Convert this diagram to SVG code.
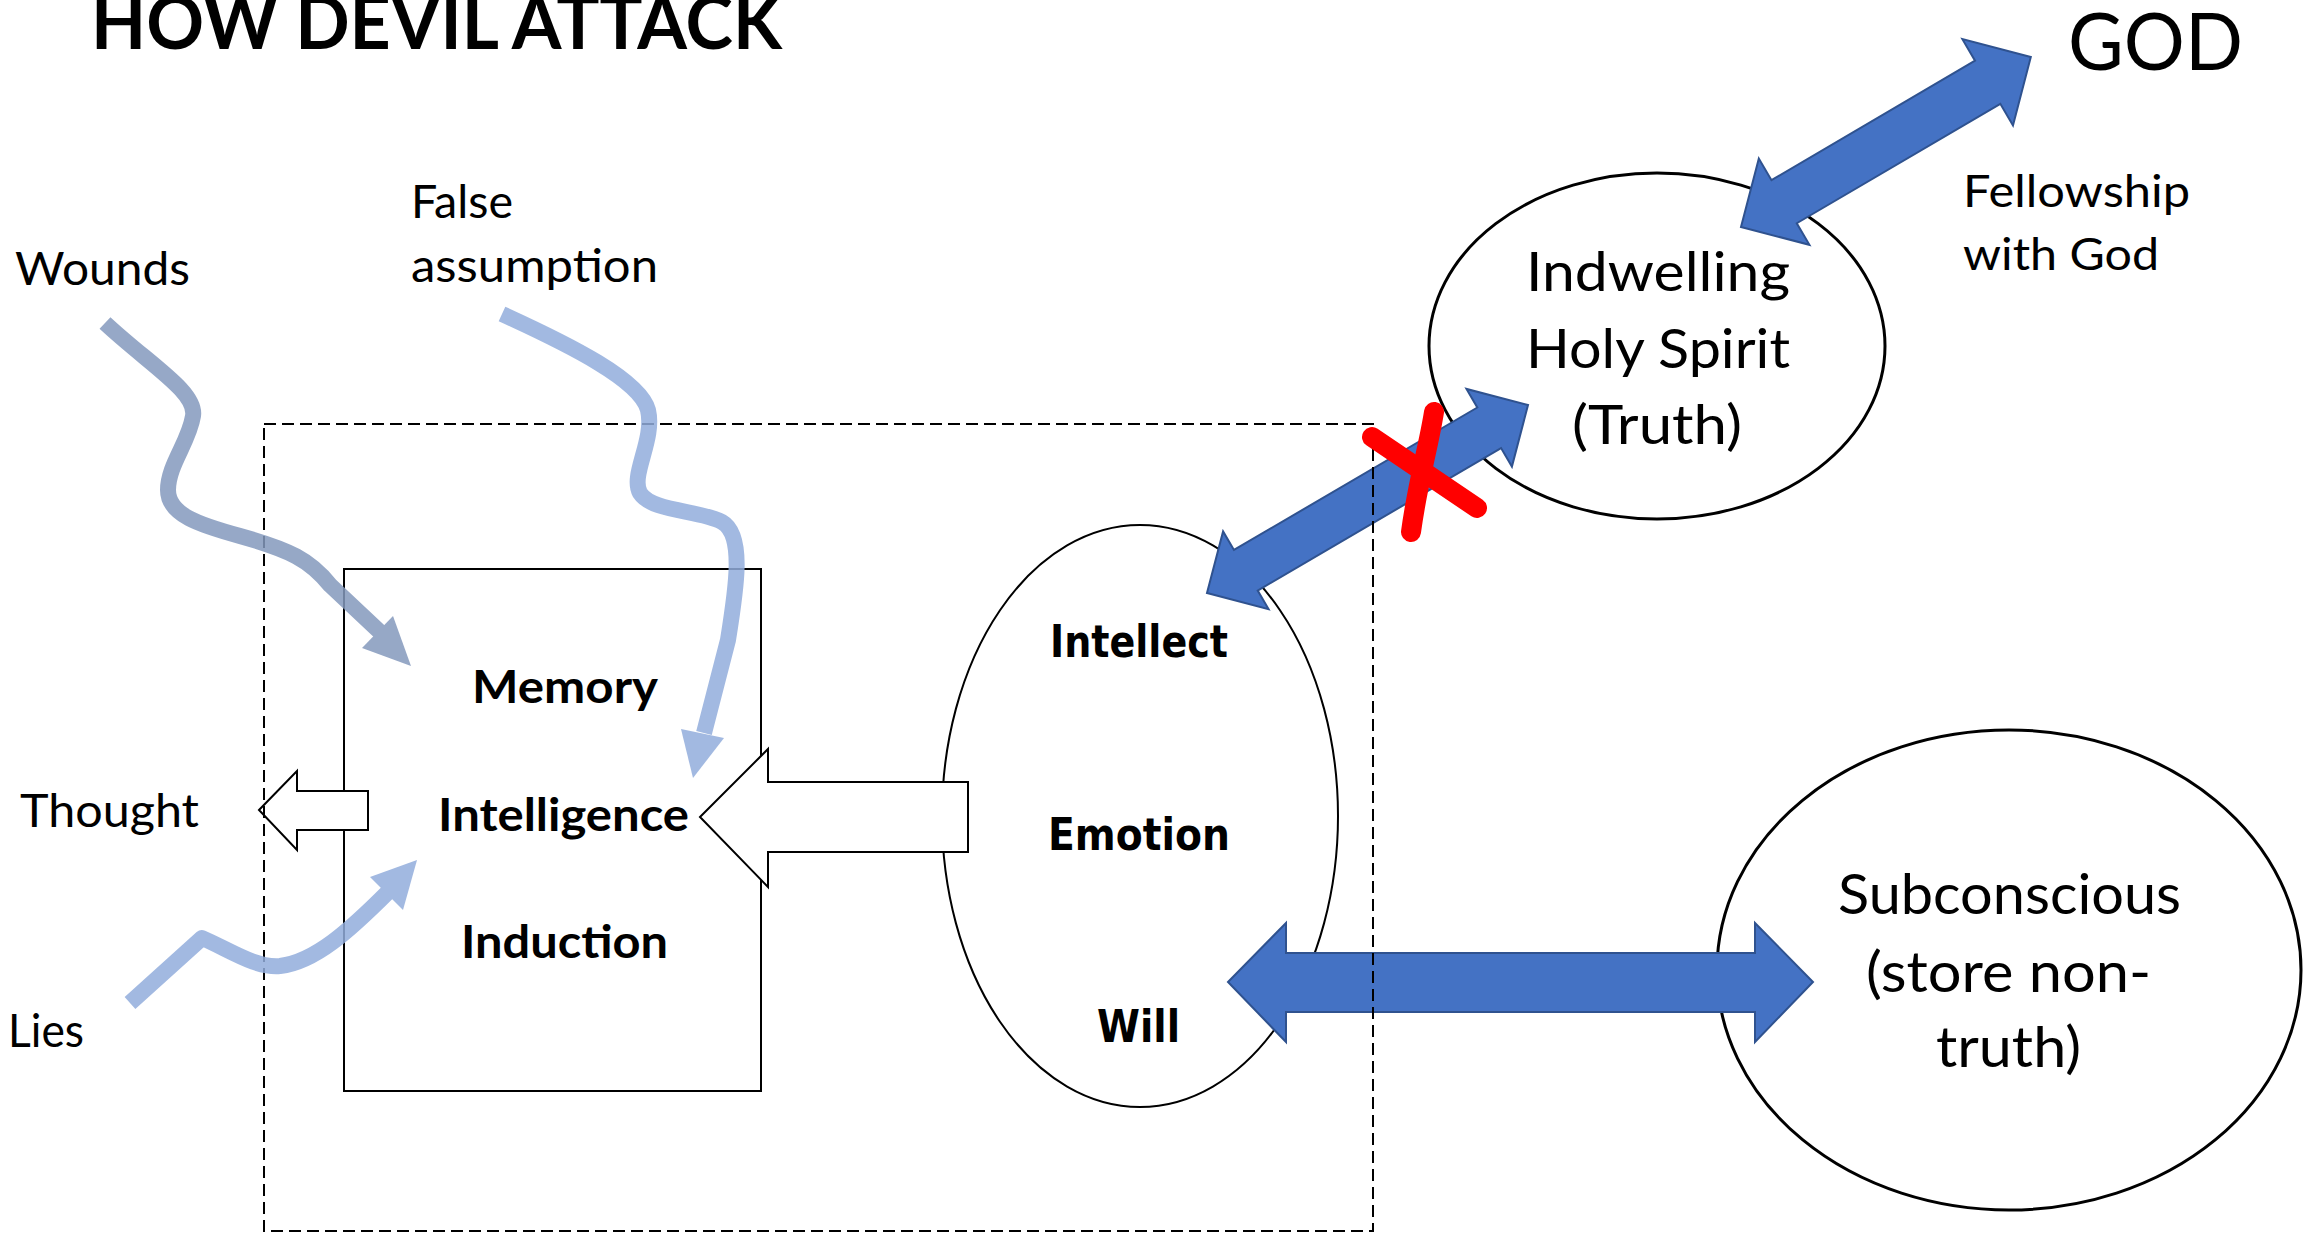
<svg xmlns="http://www.w3.org/2000/svg" width="2305" height="1239" viewBox="0 0 2305 1239">
<style>
.t{font-family:Lato,"Open Sans","Liberation Sans",sans-serif;fill:#000}
.b{font-weight:bold}
.v{font-family:"DejaVu Sans",Verdana,sans-serif;font-weight:bold;fill:#000}
.node{fill:none;stroke:#000}
.blk{fill:#fff;stroke:#000;stroke-width:2}
.blue{fill:#4472C4;stroke:#2F528F;stroke-width:2}
.wav{fill:none;stroke-width:16;stroke-linejoin:round}
</style>
<rect width="2305" height="1239" fill="#fff"/>

<g id="mind-box">
<rect x="344" y="569" width="417" height="522" class="node" stroke-width="2"/>
</g>
<g id="soul">
<ellipse cx="1140" cy="816" rx="198" ry="291" class="node" stroke-width="2"/>
</g>
<g id="spirit">
<ellipse cx="1657" cy="346" rx="228" ry="173" class="node" stroke-width="3"/>
</g>
<g id="subconscious">
<ellipse cx="2009" cy="970" rx="292" ry="240" class="node" stroke-width="3"/>
</g>

<g id="connectors">
<polygon class="blk" points="259,810 297,771 297,791 368,791 368,830 297,830 297,850"/>
<polygon class="blk" points="700,817 768,749 768,782 968,782 968,852 768,852 768,887"/>
<polygon class="blue" points="1228,982 1286,923 1286,953 1755,953 1755,923 1813,982 1755,1042 1755,1012 1286,1012 1286,1042"/>
<polygon class="blue" transform="translate(1207,593) rotate(-30.35)" points="0,0 45,-45 45,-23.5 327,-23.5 327,-45 372,0 327,45 327,23.5 45,23.5 45,45"/>
<polygon class="blue" transform="translate(1741,227) rotate(-30.4)" points="0,0 50,-50 50,-25 286,-25 286,-50 336,0 286,50 286,25 50,25 50,50"/>
</g>

<g id="boundary">
<rect x="264" y="424" width="1109" height="807" fill="none" stroke="#000" stroke-width="2" stroke-dasharray="12,6"/>
</g>

<g id="cross">
<path d="M1372,437 L1477,508" stroke="#FF0000" stroke-width="20" stroke-linecap="round" fill="none"/>
<path d="M1434,412 C1428,450 1418,480 1411,532" stroke="#FF0000" stroke-width="20" stroke-linecap="round" fill="none"/>
</g>

<g id="wounds-arrow" opacity="0.85">
<path class="wav" stroke="#8499BD" d="M105,323 C150,365 197,392 193,416 C189,442 168,465 168,490 C168,515 200,525 240,536 C290,550 310,560 330,585 L380,632"/>
<polygon fill="#8499BD" points="411,666 362,648 393,616"/>
</g>
<g id="false-arrow" opacity="0.85">
<path class="wav" stroke="#92ADDC" d="M502,314 C570,345 640,380 648,410 C655,440 630,475 640,493 C652,512 700,510 722,522 C745,535 736,590 728,640 L704,733"/>
<polygon fill="#92ADDC" points="693,778 681,729 724,738"/>
</g>
<g id="lies-arrow" opacity="0.85">
<path class="wav" stroke="#92ADDC" d="M130,1003 L202,938 C230,950 255,968 280,966 C315,962 350,930 388,892"/>
<polygon fill="#92ADDC" points="417,860 370,877 403,910"/>
</g>

<g id="labels">
<text class="t b" x="91" y="49" font-size="74" textLength="691" lengthAdjust="spacingAndGlyphs">HOW DEVIL ATTACK</text>
<text class="t" x="15" y="285" font-size="47" textLength="175" lengthAdjust="spacingAndGlyphs">Wounds</text>
<text class="t" x="411" y="218" font-size="47" textLength="102" lengthAdjust="spacingAndGlyphs">False</text>
<text class="t" x="411" y="282" font-size="47" textLength="247" lengthAdjust="spacingAndGlyphs">assumption</text>
<text class="t" x="20" y="827" font-size="47" textLength="179" lengthAdjust="spacingAndGlyphs">Thought</text>
<text class="t" x="8" y="1047" font-size="47" textLength="76" lengthAdjust="spacingAndGlyphs">Lies</text>
<text class="t" x="1963" y="207" font-size="45" textLength="227" lengthAdjust="spacingAndGlyphs">Fellowship</text>
<text class="t" x="1963" y="270" font-size="45" textLength="196" lengthAdjust="spacingAndGlyphs">with God</text>
<text class="t" x="2068" y="70" font-size="80" textLength="175" lengthAdjust="spacingAndGlyphs">GOD</text>
</g>
<g id="mind-text">
<text class="t b" x="472" y="703" font-size="46" textLength="186" lengthAdjust="spacingAndGlyphs">Memory</text>
<text class="t b" x="438" y="831" font-size="46" textLength="251" lengthAdjust="spacingAndGlyphs">Intelligence</text>
<text class="t b" x="461" y="958" font-size="46" textLength="207" lengthAdjust="spacingAndGlyphs">Induction</text>
</g>
<g id="soul-text">
<text class="v" x="1050" y="657" font-size="44" textLength="178" lengthAdjust="spacingAndGlyphs">Intellect</text>
<text class="v" x="1048" y="850" font-size="44" textLength="182" lengthAdjust="spacingAndGlyphs">Emotion</text>
<text class="v" x="1097" y="1042" font-size="44" textLength="83" lengthAdjust="spacingAndGlyphs">Will</text>
</g>
<g id="spirit-text">
<text class="t" x="1526" y="291" font-size="54" textLength="264" lengthAdjust="spacingAndGlyphs">Indwelling</text>
<text class="t" x="1526" y="368" font-size="54" textLength="264" lengthAdjust="spacingAndGlyphs">Holy Spirit</text>
<text class="t" x="1572" y="444" font-size="54" textLength="170" lengthAdjust="spacingAndGlyphs">(Truth)</text>
</g>
<g id="subconscious-text">
<text class="t" x="1838" y="914" font-size="56" textLength="343" lengthAdjust="spacingAndGlyphs">Subconscious</text>
<text class="t" x="1866" y="992" font-size="56" textLength="285" lengthAdjust="spacingAndGlyphs">(store non-</text>
<text class="t" x="1936" y="1067" font-size="56" textLength="145" lengthAdjust="spacingAndGlyphs">truth)</text>
</g>
</svg>
